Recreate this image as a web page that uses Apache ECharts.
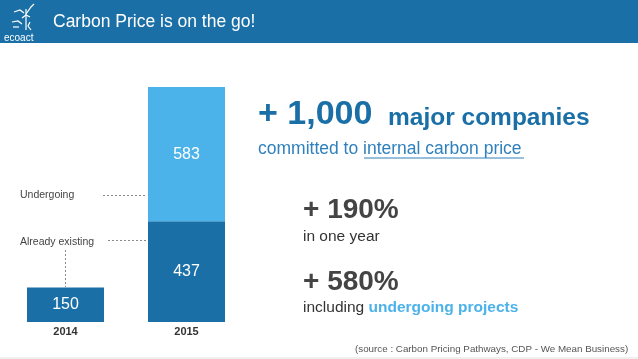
<!DOCTYPE html>
<html>
<head>
<meta charset="utf-8">
<script src="https://cdn.jsdelivr.net/npm/echarts@6/dist/echarts.min.js"></script>
<style>
html,body{margin:0;padding:0;background:#fff;}
#chart{width:638px;height:359px;}
</style>
</head>
<body>
<div id="chart"></div>
<script>
var categories = ['2014', '2015'];
var existingValues = [150, 437];
var undergoingValues = [null, 583];
var seriesNames = ['Already existing', 'Undergoing'];

var DARK = '#1a6fa6';
var LIGHT = '#4cb2ea';
var FONT = '"Liberation Sans", Arial, Helvetica, sans-serif';

var chart = echarts.init(document.getElementById('chart'));

function txt(x, y, text, size, color, weight, extra) {
  var s = {text: text, x: 0, y: 0, fontSize: size, fill: color, fontWeight: weight || 'normal',
    fontFamily: FONT, textVerticalAlign: 'middle', verticalAlign: 'middle'};
  if (extra) for (var k in extra) s[k] = extra[k];
  return {type: 'text', x: x, y: y, style: s, z: 10};
}
function dline(x1, y1, x2, y2) {
  return {type: 'line', shape: {x1: x1, y1: y1, x2: x2, y2: y2},
    style: {stroke: '#8a8a8a', lineWidth: 1, lineDash: [2, 2]}, z: 10};
}
function wline(pts, w) {
  return {type: 'polyline', shape: {points: pts}, style: {stroke: '#ffffff', lineWidth: w || 1.2, fill: null}, z: 11};
}

var graphics = [
  {type: 'rect', shape: {x: 0, y: 0, width: 638, height: 43}, style: {fill: DARK}, z: 5},
  // logo
  wline([[14, 12], [20, 10], [24, 13]]),
  wline([[22, 18], [26, 15], [30, 17]]),
  wline([[12, 22], [18, 21], [22, 24]]),
  wline([[26, 9], [26, 30]]),
  wline([[26, 14], [31, 7], [34, 4]]),
  wline([[30, 22], [28, 26], [31, 30]]),
  wline([[13, 27], [19, 27]]),
  txt(4, 38, 'ecoact', 10, '#ffffff', 'normal'),
  txt(53, 22, 'Carbon Price is on the go!', 17.5, '#ffffff', 'normal'),
  // annotations
  txt(20, 195, 'Undergoing', 10.5, '#444444', 'normal'),
  dline(103, 195.5, 147, 195.5),
  txt(20, 242, 'Already existing', 10.5, '#444444', 'normal'),
  dline(108, 240.5, 147, 240.5),
  dline(65.5, 250, 65.5, 287),
  // right side texts
  txt(258, 115, '+ 1,000', 34, DARK, 'bold'),
  txt(388, 118, 'major companies', 24.5, DARK, 'bold'),
  txt(258, 149, 'committed to internal carbon price', 17.5, '#2f80bd', 'normal'),
  {type: 'line', shape: {x1: 364, y1: 158, x2: 524, y2: 158}, style: {stroke: '#2f80bd', lineWidth: 1}, z: 10},
  txt(303, 210, '+ 190%', 28, '#444444', 'bold'),
  txt(303, 237, 'in one year', 15.5, '#333333', 'normal'),
  txt(303, 282, '+ 580%', 28, '#444444', 'bold'),
  {type: 'text', x: 303, y: 308, z: 10, style: {
    text: '{a|including }{b|undergoing projects}', x: 0, y: 0, textVerticalAlign: 'middle', verticalAlign: 'middle',
    fontFamily: FONT, fontSize: 15.5,
    rich: {
      a: {fontSize: 15.5, fontFamily: FONT, fill: '#333333', color: '#333333'},
      b: {fontSize: 15.5, fontFamily: FONT, fill: LIGHT, color: LIGHT, fontWeight: 'bold'}
    }
  }},
  txt(355, 349, '(source : Carbon Pricing Pathways, CDP - We Mean Business)', 9.8, '#555555', 'normal'),
  {type: 'rect', shape: {x: 0, y: 357, width: 638, height: 2}, style: {fill: '#f0f0f0'}, z: 5}
];

chart.setOption({
  animation: false,
  backgroundColor: '#ffffff',
  textStyle: {fontFamily: FONT},
  grid: {left: 5, width: 242, top: 87, bottom: 37, containLabel: false},
  xAxis: {
    type: 'category', data: categories,
    axisLine: {show: false}, axisTick: {show: false}, splitLine: {show: false},
    axisLabel: {color: '#333333', fontWeight: 'bold', fontSize: 11, margin: 4, fontFamily: FONT}
  },
  yAxis: {type: 'value', min: 0, max: 1020, show: false, splitLine: {show: false}},
  series: [
    {name: seriesNames[0], type: 'bar', stack: 'total', data: existingValues, barWidth: 77,
      itemStyle: {color: DARK},
      label: {show: true, position: 'inside', color: '#ffffff', fontSize: 16, fontFamily: FONT}},
    {name: seriesNames[1], type: 'bar', stack: 'total', data: undergoingValues, barWidth: 77,
      itemStyle: {color: LIGHT},
      label: {show: true, position: 'inside', color: '#ffffff', fontSize: 16, fontFamily: FONT}}
  ],
  graphic: graphics
});
</script>
</body>
</html>
